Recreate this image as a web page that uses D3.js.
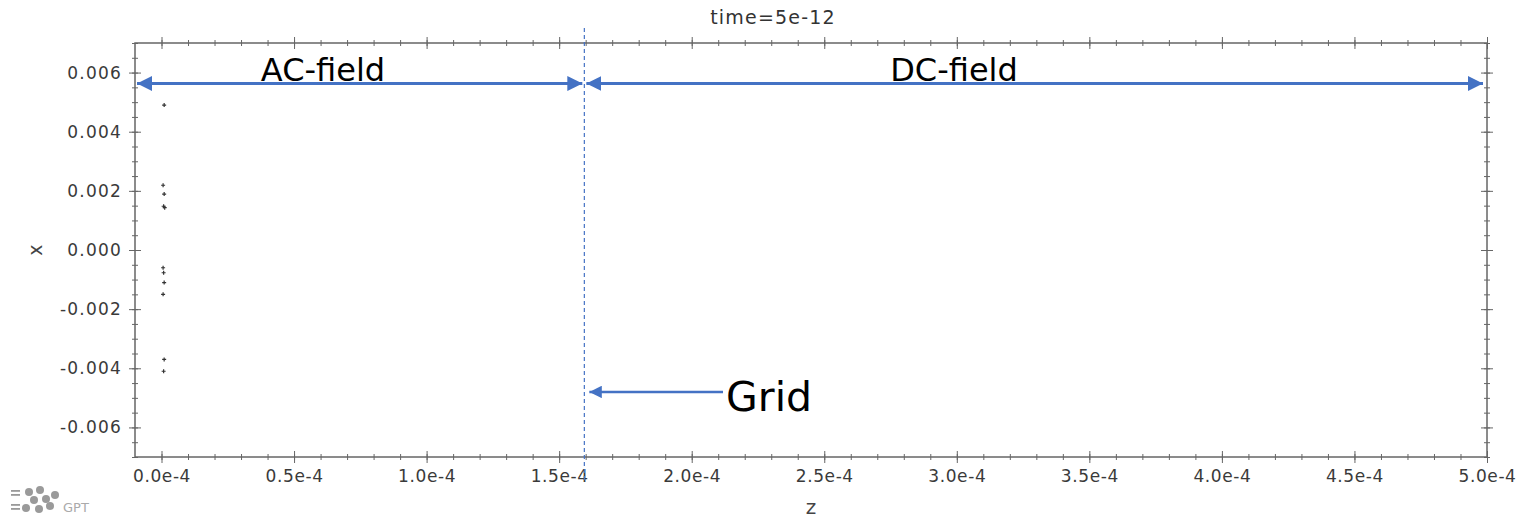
<!DOCTYPE html>
<html>
<head>
<meta charset="utf-8">
<script src="https://cdn.jsdelivr.net/npm/d3@7"></script>
<style>
  body { margin: 0; background: #fff; }
  svg text { font-family: "DejaVu Sans", Verdana, sans-serif; }
</style>
</head>
<body>
<div id="chart"></div>
<script>
// particle positions (z, x) at time=5e-12
const pointsZ = [1.0e-6, 0.6e-6, 1.0e-6, 0.8e-6, 1.2e-6, 0.6e-6, 0.8e-6, 1.0e-6, 0.6e-6, 1.0e-6, 0.8e-6];
const pointsX = [0.0049, 0.00219, 0.00189, 0.00148, 0.00143, -0.0006, -0.00077, -0.0011, -0.0015, -0.0037, -0.0041];

const zTicks = [0, 0.5e-4, 1.0e-4, 1.5e-4, 2.0e-4, 2.5e-4, 3.0e-4, 3.5e-4, 4.0e-4, 4.5e-4, 5.0e-4];
const xTicks = [0.006, 0.004, 0.002, 0, -0.002, -0.004, -0.006];

const zDomain = [-0.1e-4, 5.0e-4];
const xDomain = [-0.007, 0.007];

// annotation positions in data units
const gridZ = 1.595e-4;
const fieldY = 0.00563;
const gridY = -0.0048;

const width = 1516;
const height = 518;
const margin = {top: 43, bottom: 61, left: 135, right: 29};

const svg = d3.select('#chart')
    .append('svg')
    .attr('width', width)
    .attr('height', height);

const x = d3.scaleLinear()
    .domain(zDomain)
    .range([margin.left, width - margin.right]);

const y = d3.scaleLinear()
    .domain(xDomain)
    .range([height - margin.bottom, margin.top]);

const zMinor = d3.range(0, 5.01e-4, 0.1e-4);
const xMinor = d3.range(-0.007, 0.00701, 0.0005);

const axisColor = '#666';

// ticks that cross the frame: draw both directions at each side
function crossTicks(axisFns, scale, pos, values, size) {
    axisFns.forEach(f => {
        svg.append('g')
            .attr('transform', pos)
            .call(f(scale).tickValues(values).tickSize(size).tickFormat(''))
            .call(g => g.select('.domain').remove())
            .call(g => g.selectAll('line').attr('stroke', axisColor).attr('stroke-width', 1));
    });
}

const posBottom = `translate(0,${height - margin.bottom})`;
const posTop = `translate(0,${margin.top})`;
const posLeft = `translate(${margin.left},0)`;
const posRight = `translate(${width - margin.right},0)`;

crossTicks([d3.axisBottom, d3.axisTop], x, posBottom, zMinor, 3);
crossTicks([d3.axisBottom, d3.axisTop], x, posBottom, zTicks, 6);
crossTicks([d3.axisBottom, d3.axisTop], x, posTop, zMinor, 3);
crossTicks([d3.axisBottom, d3.axisTop], x, posTop, zTicks, 6);
crossTicks([d3.axisLeft, d3.axisRight], y, posLeft, xMinor, 3);
crossTicks([d3.axisLeft, d3.axisRight], y, posLeft, xTicks, 6);
crossTicks([d3.axisLeft, d3.axisRight], y, posRight, xMinor, 3);
crossTicks([d3.axisLeft, d3.axisRight], y, posRight, xTicks, 6);

// frame
svg.append('rect')
    .attr('x', margin.left)
    .attr('y', margin.top)
    .attr('width', width - margin.left - margin.right)
    .attr('height', height - margin.top - margin.bottom)
    .attr('fill', 'none')
    .attr('stroke', axisColor)
    .attr('stroke-width', 1.5);

// tick labels
svg.append('g')
    .attr('transform', posBottom)
    .call(d3.axisBottom(x).tickValues(zTicks).tickSize(0).tickPadding(13)
        .tickFormat(d => (d / 1e-4).toFixed(1) + 'e-4'))
    .call(g => g.select('.domain').remove())
    .call(g => g.selectAll('text').attr('font-size', 17).attr('letter-spacing', 0.6).attr('fill', '#3a3a3a'));

svg.append('g')
    .attr('transform', posLeft)
    .call(d3.axisLeft(y).tickValues(xTicks).tickSize(0).tickPadding(13)
        .tickFormat(d => d.toFixed(3)))
    .call(g => g.select('.domain').remove())
    .call(g => g.selectAll('text').attr('font-size', 17).attr('letter-spacing', 1.2).attr('fill', '#3a3a3a'));

// axis titles
svg.append('text')
    .attr('x', 811).attr('y', 514)
    .attr('text-anchor', 'middle')
    .attr('font-size', 20).attr('fill', '#444')
    .text('z');

svg.append('text')
    .attr('transform', `translate(35,${y(0)}) rotate(-90)`)
    .attr('text-anchor', 'middle')
    .attr('dy', '0.35em')
    .attr('font-size', 19).attr('fill', '#444')
    .text('x');

svg.append('text')
    .attr('x', 773).attr('y', 24)
    .attr('text-anchor', 'middle')
    .attr('font-size', 19).attr('letter-spacing', 1.2).attr('fill', '#333')
    .text('time=5e-12');

// particles as small crosses
svg.append('g')
    .selectAll('path')
    .data(pointsZ.map((z, i) => [z, pointsX[i]]))
    .join('path')
    .attr('d', d => `M${x(d[0]) - 2},${y(d[1])}h4M${x(d[0])},${y(d[1]) - 2}v4`)
    .attr('stroke', '#333')
    .attr('stroke-width', 1.2);

// annotations
const blue = '#4472C4';
const defs = svg.append('defs');
defs.append('marker')
    .attr('id', 'head')
    .attr('viewBox', '0 0 10 10')
    .attr('refX', 10).attr('refY', 5)
    .attr('markerWidth', 5).attr('markerHeight', 5)
    .attr('markerUnits', 'strokeWidth')
    .attr('orient', 'auto-start-reverse')
    .append('path')
    .attr('d', 'M0,0L10,5L0,10Z')
    .attr('fill', blue);

// grid line
svg.append('line')
    .attr('x1', x(gridZ)).attr('x2', x(gridZ))
    .attr('y1', 28).attr('y2', 480)
    .attr('stroke', blue)
    .attr('stroke-width', 1.2)
    .attr('stroke-dasharray', '4,3');

const ay = y(fieldY);
svg.append('line')
    .attr('x1', margin.left + 2).attr('x2', x(gridZ) - 2)
    .attr('y1', ay).attr('y2', ay)
    .attr('stroke', blue).attr('stroke-width', 3)
    .attr('marker-start', 'url(#head)')
    .attr('marker-end', 'url(#head)');

svg.append('line')
    .attr('x1', x(gridZ) + 2).attr('x2', width - margin.right - 4)
    .attr('y1', ay).attr('y2', ay)
    .attr('stroke', blue).attr('stroke-width', 3)
    .attr('marker-start', 'url(#head)')
    .attr('marker-end', 'url(#head)');

svg.append('text')
    .attr('x', 323).attr('y', ay - 3)
    .attr('text-anchor', 'middle')
    .attr('font-size', 32)
    .attr('font-family', '"Open Sans", sans-serif')
    .attr('fill', '#000')
    .text('AC-field');

svg.append('text')
    .attr('x', 954).attr('y', ay - 3)
    .attr('text-anchor', 'middle')
    .attr('font-size', 32)
    .attr('font-family', '"Open Sans", sans-serif')
    .attr('fill', '#000')
    .text('DC-field');

const gy = y(gridY);
svg.append('line')
    .attr('x1', 723).attr('x2', x(gridZ) + 5)
    .attr('y1', gy).attr('y2', gy)
    .attr('stroke', blue).attr('stroke-width', 2.5)
    .attr('marker-end', 'url(#head)');

svg.append('text')
    .attr('x', 726).attr('y', gy + 19)
    .attr('font-size', 41)
    .attr('font-family', '"Open Sans", sans-serif')
    .attr('fill', '#000')
    .text('Grid');

// GPT logo
const logo = svg.append('g').attr('fill', '#9a9a9a');
[[29, 492], [40, 490], [34, 500], [46, 499], [55, 495], [26, 508], [39, 509], [50, 506]].forEach(c => {
    logo.append('circle').attr('cx', c[0]).attr('cy', c[1]).attr('r', 4);
});
[[11, 490], [11, 494], [11, 504], [11, 508]].forEach(c => {
    logo.append('rect').attr('x', c[0]).attr('y', c[1]).attr('width', 9).attr('height', 1.8);
});
svg.append('text')
    .attr('x', 63).attr('y', 512)
    .attr('font-size', 13).attr('fill', '#aaa')
    .text('GPT');
</script>
</body>
</html>
